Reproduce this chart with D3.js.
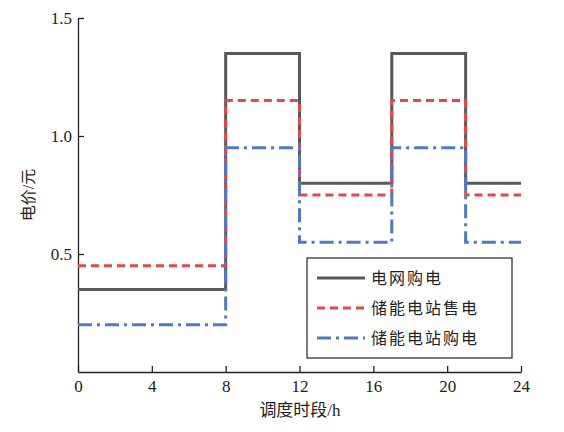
<!DOCTYPE html>
<html>
<head>
<meta charset="utf-8">
<script src="https://d3js.org/d3.v7.min.js"></script>
<style>
  body { margin: 0; background: #fff; }
  svg text { font-family: "Liberation Serif", "Noto Sans CJK SC", serif; }
</style>
</head>
<body>
<svg width="564" height="432"></svg>
<script>
  // step boundaries (hours) and price levels
  let hours = [0, 8, 12, 17, 21, 24];
  let gridBuy = [0.35, 1.35, 0.8, 1.35, 0.8];
  let storageSell = [0.45, 1.15, 0.75, 1.15, 0.75];
  let storageBuy = [0.2, 0.95, 0.55, 0.95, 0.55];
  let xTicks = [0, 4, 8, 12, 16, 20, 24];
  let yTicks = [0.5, 1.0, 1.5];

  let series = [
    {name: "电网购电", vals: gridBuy, color: "#595959", dash: null},
    {name: "储能电站售电", vals: storageSell, color: "#e8474a", dash: "8,5"},
    {name: "储能电站购电", vals: storageBuy, color: "#4f79c4", dash: "14,5,3,5"}
  ];

  let svg = d3.select("svg");
  let x = d3.scaleLinear().domain([0, 24]).range([78, 521]);
  let y = d3.scaleLinear().domain([0, 1.5]).range([372, 18]);

  let g = svg.append("g");

  // x axis, ticks pointing inward
  let xa = g.append("g").attr("transform", "translate(0,372)")
    .call(d3.axisBottom(x).tickValues(xTicks).tickSizeInner(-6).tickSizeOuter(0).tickPadding(8));
  xa.attr("font-family", null);
  xa.selectAll("text").attr("font-size", 17).attr("fill", "#222");

  let ya = g.append("g").attr("transform", "translate(78,0)")
    .call(d3.axisLeft(y).tickValues(yTicks).tickSizeInner(-6).tickSizeOuter(0).tickPadding(6)
      .tickFormat(d3.format(".1f")));
  ya.attr("font-family", null);
  ya.selectAll("text").attr("font-size", 17).attr("fill", "#222");
  g.selectAll(".domain, .tick line").attr("stroke", "#222").attr("stroke-width", 1.3);

  let line = d3.line().curve(d3.curveStepAfter)
    .x(d => x(d[0])).y(d => y(d[1]));

  series.forEach(s => {
    let pts = s.vals.map((v, i) => [hours[i], v]);
    pts.push([24, s.vals[s.vals.length - 1]]);
    g.append("path").attr("d", line(pts))
      .attr("fill", "none").attr("stroke", s.color).attr("stroke-width", 3)
      .attr("stroke-dasharray", s.dash);
  });

  // legend
  let lg = svg.append("g").attr("transform", "translate(307,258)");
  lg.append("rect").attr("width", 205).attr("height", 100)
    .attr("fill", "#fff").attr("stroke", "#222").attr("stroke-width", 1.2);
  series.forEach((s, i) => {
    let yy = 20 + i * 30;
    lg.append("line").attr("x1", 10).attr("x2", 58).attr("y1", yy).attr("y2", yy)
      .attr("stroke", s.color).attr("stroke-width", 3).attr("stroke-dasharray", s.dash);
    lg.append("text").attr("x", 64).attr("y", yy + 6).attr("font-size", 16)
      .attr("fill", "#222").attr("letter-spacing", 2).text(s.name);
  });

  svg.append("text").attr("x", 300).attr("y", 416).attr("text-anchor", "middle")
    .attr("font-size", 17).attr("fill", "#222").text("调度时段/h");
  svg.append("text").attr("transform", "translate(34,195) rotate(-90)")
    .attr("text-anchor", "middle").attr("font-size", 16).attr("fill", "#222").text("电价/元");
</script>
</body>
</html>
